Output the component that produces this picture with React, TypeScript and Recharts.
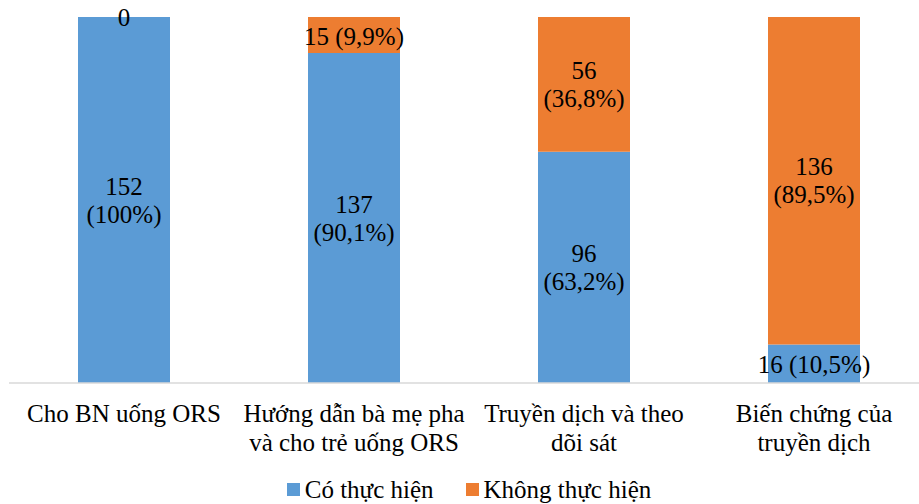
import React from "react";
import { BarChart, Bar, XAxis, YAxis, Legend, LabelList } from "recharts";

const categories = [
  "Cho BN uống ORS",
  "Hướng dẫn bà mẹ pha\nvà cho trẻ uống ORS",
  "Truyền dịch và theo\ndõi sát",
  "Biến chứng của\ntruyền dịch",
];
const done = [152, 137, 96, 16];
const notDone = [0, 15, 56, 136];
const total = 152;

const seriesNames = ["Có thực hiện", "Không thực hiện"];
const colors = ["#5B9BD5", "#ED7D31"];

const FONT = '"Liberation Serif", "Times New Roman", serif';

const data = categories.map((name, i) => ({ name, done: done[i], notDone: notDone[i] }));

function pct(v: number) {
  const p = (v / total) * 100;
  const s = Number.isInteger(p) ? String(p) : p.toFixed(1).replace(".", ",");
  return `(${s}%)`;
}

const txt = { textAnchor: "middle" as const, fontSize: 25, fontFamily: FONT, fill: "#000" };

function segmentLabel(v: number, cx: number, cy: number, h: number) {
  if (Math.abs(h) < 50) {
    return (
      <text {...txt} x={cx} y={cy + 1} dominantBaseline="central">
        {`${v} ${pct(v)}`}
      </text>
    );
  }
  return (
    <text {...txt}>
      <tspan x={cx} y={cy - 14} dominantBaseline="central">{v}</tspan>
      <tspan x={cx} y={cy + 14} dominantBaseline="central">{pct(v)}</tspan>
    </text>
  );
}

// blue series: also writes the "0" of an empty orange segment on top of the bar
function doneLabel(props: any) {
  const { x, y, width, height, value } = props;
  const i = categories.indexOf(value);
  const cx = x + width / 2;
  return (
    <g>
      {segmentLabel(done[i], cx, y + height / 2, height)}
      {notDone[i] === 0 && (
        <text {...txt} x={cx} y={y} dominantBaseline="central">
          0
        </text>
      )}
    </g>
  );
}

function notDoneLabel(props: any) {
  const { x, y, width, height, value } = props;
  const i = categories.indexOf(value);
  if (notDone[i] === 0) return null;
  return segmentLabel(notDone[i], x + width / 2, y + height / 2, height);
}

function CategoryTick(props: any) {
  const { x, y, payload } = props;
  const lines = String(payload.value).split("\n");
  return (
    <text {...txt}>
      {lines.map((l, i) => (
        <tspan key={i} x={x} y={y + 22 + i * 29} dominantBaseline="central">
          {l}
        </tspan>
      ))}
    </text>
  );
}

function LegendContent() {
  return (
    <div
      style={{
        height: 41,
        display: "flex",
        justifyContent: "center",
        alignItems: "center",
        paddingTop: 12,
        boxSizing: "border-box",
        fontFamily: FONT,
        fontSize: 25,
        color: "#000",
      }}
    >
      {seriesNames.map((n, i) => (
        <div key={n} style={{ display: "flex", alignItems: "center", marginRight: i === 0 ? 32 : 0 }}>
          <span style={{ width: 13, height: 13, background: colors[i], display: "inline-block", marginRight: 5 }} />
          <span>{n}</span>
        </div>
      ))}
    </div>
  );
}

export default function App() {
  return (
    <div style={{ width: 919, height: 504, overflow: "hidden", background: "#fff" }}>
      <style>{"body{margin:0;overflow:hidden}"}</style>
      <BarChart width={940} height={504} data={data} margin={{ top: 17, right: 11, left: 9, bottom: 0 }}>
        <XAxis
          dataKey="name"
          height={80}
          interval={0}
          tickLine={false}
          axisLine={{ stroke: "#d9d9d9", strokeWidth: 1.5 }}
          tick={<CategoryTick />}
        />
        <YAxis hide domain={[0, total]} />
        <Legend verticalAlign="bottom" height={41} content={<LegendContent />} />
        <Bar dataKey="done" name={seriesNames[0]} stackId="a" fill={colors[0]} barSize={92} isAnimationActive={false}>
          <LabelList dataKey="name" content={doneLabel} />
        </Bar>
        <Bar dataKey="notDone" name={seriesNames[1]} stackId="a" fill={colors[1]} barSize={92} isAnimationActive={false}>
          <LabelList dataKey="name" content={notDoneLabel} />
        </Bar>
      </BarChart>
    </div>
  );
}
